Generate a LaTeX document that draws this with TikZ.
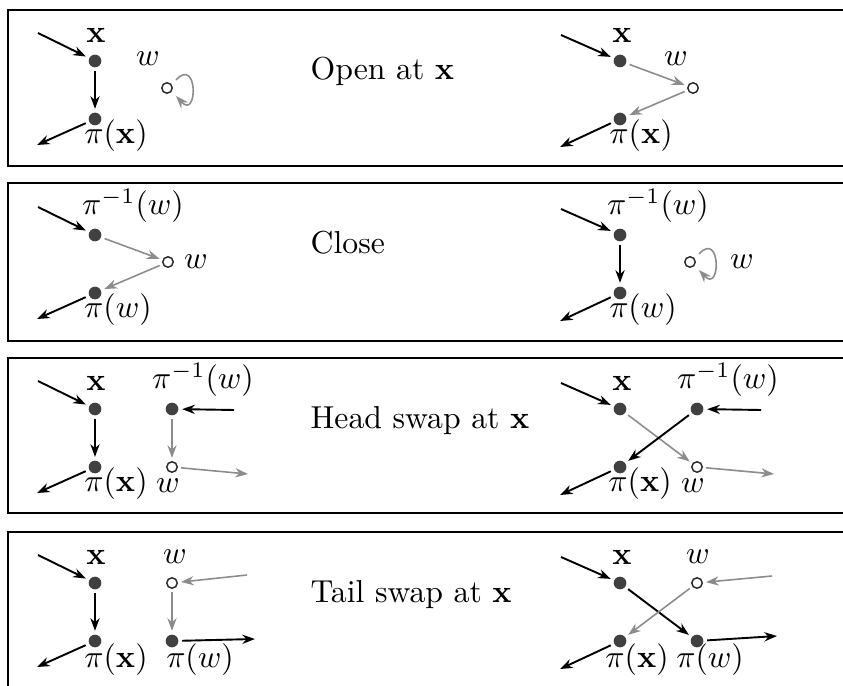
\documentclass[tikz,border=0pt]{standalone}
\usepackage{amsmath}
\usepackage{amssymb}
\usepackage{tikz}
\usetikzlibrary{
    positioning,
    arrows.meta
}
\tikzset{
    >={Stealth[length=4pt,width=2.9pt]},
    vtx/.style={
        circle,
        fill=black!75,
        inner sep=0pt,
        minimum size=4pt,
        outer sep=1.2pt
    },
    hole/.style={
        circle,
        draw=black!85,
        line width=0.45pt,
        fill=white,
        inner sep=0pt,
        minimum size=3.3pt,
        outer sep=1.2pt
    },
    lbl/.style={inner sep=0pt},
    blk/.style={->, line width=0.6pt},
    gry/.style={->, line width=0.5pt, draw=black!45},
    frame/.style={line width=0.55pt}
}

\begin{document}
\begin{tikzpicture}[
    x=0.315pt,
    y=-0.315pt
]
    \useasboundingbox (0,0) rectangle (843,686);

    % Marcos
    \draw[frame] (843,10) -| (8,166) -- (843,166);
    \draw[frame] (843,183) -| (8,341) -- (843,341);
    \draw[frame] (843,358) -| (8,513) -- (843,513);
    \draw[frame] (843,532) -- (8,532) -- (8,686);

    % Open at x
    \node[vtx] (ax) at (95,61) {};
    \node[vtx] (apx) at (95,119) {};
    \node[hole] (aw) at (167,88) {};
    \node[lbl] (axl) at (96,35) {$\mathbf{x}$};
    \node[lbl] (apxl) at (116,136) {$\pi(\mathbf{x})$};
    \node[lbl] (awl) at (148,59) {$w$};
    \coordinate (ain) at (38,33);
    \coordinate (aout) at (37,145);

    \node[vtx] (bx) at (620,61) {};
    \node[vtx] (bpx) at (620,119) {};
    \node[hole] (bw) at (693,88) {};
    \node[lbl] (bxl) at (622,35) {$\mathbf{x}$};
    \node[lbl] (bpxl) at (641,136) {$\pi(\mathbf{x})$};
    \node[lbl] (bwl) at (676,59) {$w$};
    \coordinate (bin) at (561,35);
    \coordinate (bout) at (560,147);

    \node[lbl, anchor=base west] (atxt) at (310,80) {Open at $\mathbf{x}$};

    \draw[blk] (ain) -- (ax);
    \draw[blk] (ax) -- (apx);
    \draw[blk] (apx) -- (aout);
    \draw[gry] ([shift={(9,-8)}]aw.center) .. controls +(22,-24) and +(22,24) .. ([shift={(9,8)}]aw.center);

    \draw[blk] (bin) -- (bx);
    \draw[gry] (bx) -- (bw);
    \draw[gry] (bw) -- (bpx);
    \draw[blk] (bpx) -- (bout);

    % Close
    \begin{scope}[shift={(0,174)}]
    \node[vtx] (cp) at (95,61) {};
    \node[vtx] (cq) at (95,119) {};
    \node[hole] (cw) at (168,88) {};
    \node[lbl] (cpl) at (133,32) {$\pi^{-1}(w)$};
    \node[lbl] (cql) at (118,136) {$\pi(w)$};
    \node[lbl] (cwl) at (196,88) {$w$};
    \coordinate (cin) at (38,33);
    \coordinate (cout) at (37,145);

    \node[vtx] (dp) at (620,61) {};
    \node[vtx] (dq) at (620,119) {};
    \node[hole] (dw) at (690,88) {};
    \node[lbl] (dpl) at (658,32) {$\pi^{-1}(w)$};
    \node[lbl] (dql) at (643,136) {$\pi(w)$};
    \node[lbl] (dwl) at (742,88) {$w$};
    \coordinate (din) at (561,35);
    \coordinate (dout) at (560,147);

    \node[lbl, anchor=base west] (ctxt) at (310,80) {Close};

    \draw[blk] (cin) -- (cp);
    \draw[gry] (cp) -- (cw);
    \draw[gry] (cw) -- (cq);
    \draw[blk] (cq) -- (cout);

    \draw[blk] (din) -- (dp);
    \draw[blk] (dp) -- (dq);
    \draw[blk] (dq) -- (dout);
    \draw[gry] ([shift={(9,-8)}]dw.center) .. controls +(22,-24) and +(22,24) .. ([shift={(9,8)}]dw.center);
    \end{scope}

    % Head swap at x
    \begin{scope}[shift={(0,348)}]
    \node[vtx] (ex) at (95,61) {};
    \node[vtx] (epx) at (95,119) {};
    \node[vtx] (ep) at (172,61) {};
    \node[hole] (ew) at (172,119) {};
    \node[lbl] (exl) at (96,35) {$\mathbf{x}$};
    \node[lbl] (epl) at (203,32) {$\pi^{-1}(w)$};
    \node[lbl] (epxl) at (116,136) {$\pi(\mathbf{x})$};
    \node[lbl] (ewl) at (168,138) {$w$};
    \coordinate (exin) at (38,33);
    \coordinate (exout) at (37,145);
    \coordinate (epin) at (234,62);
    \coordinate (ewout) at (248,126);

    \node[vtx] (fx) at (620,61) {};
    \node[vtx] (fpx) at (620,119) {};
    \node[vtx] (fp) at (697,61) {};
    \node[hole] (fw) at (697,119) {};
    \node[lbl] (fxl) at (622,35) {$\mathbf{x}$};
    \node[lbl] (fpl) at (728,32) {$\pi^{-1}(w)$};
    \node[lbl] (fpxl) at (640,136) {$\pi(\mathbf{x})$};
    \node[lbl] (fwl) at (693,138) {$w$};
    \coordinate (fxin) at (561,35);
    \coordinate (fxout) at (560,147);
    \coordinate (fpin) at (761,62);
    \coordinate (fwout) at (774,126);

    \node[lbl, anchor=base west] (etxt) at (310,80) {Head swap at $\mathbf{x}$};

    \draw[blk] (exin) -- (ex);
    \draw[blk] (ex) -- (epx);
    \draw[blk] (epx) -- (exout);
    \draw[blk] (epin) -- (ep);
    \draw[gry] (ep) -- (ew);
    \draw[gry] (ew) -- (ewout);

    \draw[blk] (fxin) -- (fx);
    \draw[gry] (fx) -- (fw);
    \draw[blk] (fpx) -- (fxout);
    \draw[blk] (fpin) -- (fp);
    \draw[blk] (fp) -- (fpx);
    \draw[gry] (fw) -- (fwout);
    \end{scope}

    % Tail swap at x
    \begin{scope}[shift={(0,522)}]
    \node[vtx] (gx) at (95,61) {};
    \node[vtx] (gpx) at (95,119) {};
    \node[hole] (gw) at (172,61) {};
    \node[vtx] (gpw) at (172,119) {};
    \node[lbl] (gxl) at (96,35) {$\mathbf{x}$};
    \node[lbl] (gwl) at (175,35) {$w$};
    \node[lbl] (gpxl) at (116,138) {$\pi(\mathbf{x})$};
    \node[lbl] (gpwl) at (200,138) {$\pi(w)$};
    \coordinate (gxin) at (38,33);
    \coordinate (gxout) at (37,145);
    \coordinate (gwin) at (247,53);
    \coordinate (gpwout) at (255,117);

    \node[vtx] (hx) at (620,61) {};
    \node[vtx] (hpx) at (620,119) {};
    \node[hole] (hw) at (697,61) {};
    \node[vtx] (hpw) at (697,119) {};
    \node[lbl] (hxl) at (622,35) {$\mathbf{x}$};
    \node[lbl] (hwl) at (698,35) {$w$};
    \node[lbl] (hpxl) at (637,138) {$\pi(\mathbf{x})$};
    \node[lbl] (hpwl) at (710,138) {$\pi(w)$};
    \coordinate (hxin) at (561,35);
    \coordinate (hxout) at (560,147);
    \coordinate (hwin) at (772,54);
    \coordinate (hpwout) at (777,114);

    \node[lbl, anchor=base west] (gtxt) at (310,80) {Tail swap at $\mathbf{x}$};

    \draw[blk] (gxin) -- (gx);
    \draw[blk] (gx) -- (gpx);
    \draw[blk] (gpx) -- (gxout);
    \draw[gry] (gwin) -- (gw);
    \draw[gry] (gw) -- (gpw);
    \draw[blk] (gpw) -- (gpwout);

    \draw[blk] (hxin) -- (hx);
    \draw[blk] (hx) -- (hpw);
    \draw[blk] (hpx) -- (hxout);
    \draw[gry] (hwin) -- (hw);
    \draw[gry] (hw) -- (hpx);
    \draw[blk] (hpw) -- (hpwout);
    \end{scope}

\end{tikzpicture}
\end{document}
